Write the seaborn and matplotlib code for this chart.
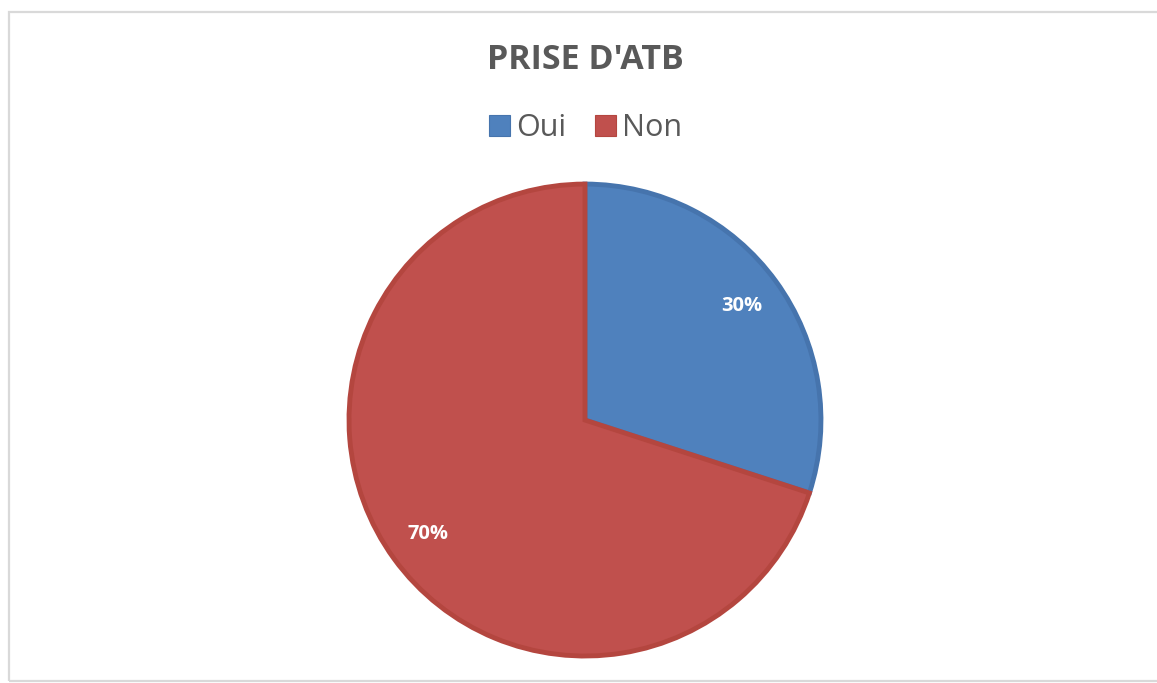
import matplotlib
matplotlib.use('Agg')
import matplotlib.pyplot as plt
import seaborn as sns
from matplotlib.patches import Rectangle, Patch

# data
labels = ['Oui', 'Non']
values = [30, 70]
colors = ['#4f81bd', '#c0504d']
edge_colors = ['#4674ad', '#b4463f']
title = "PRISE D'ATB"

sns.set_theme(style='white')
plt.rcParams['font.family'] = ['Open Sans', 'DejaVu Sans']

fig = plt.figure(figsize=(11.57, 6.83), dpi=100)
fig.patch.set_facecolor('white')

# chart frame
fig.patches.append(Rectangle((0.008, 0.003), 1.05, 0.98, transform=fig.transFigure,
                             fill=False, edgecolor='#d9d9d9', linewidth=1.6))

ax = fig.add_axes([0.3016, 0.0395, 0.408, 0.691])
wedges, texts, autotexts = ax.pie(
    values, colors=colors, startangle=90, counterclock=False,
    autopct='%d%%', pctdistance=0.82,
    wedgeprops=dict(linewidth=3.5, edgecolor='white'),
    textprops=dict(color='white', fontsize=14.5, fontweight='bold'))
for w, ec in zip(wedges, edge_colors):
    w.set_edgecolor(ec)
ax.set_aspect('equal')
ax.set_xlim(-1.0, 1.0)
ax.set_ylim(-1.0, 1.0)
ax.axis('off')

fig.text(0.5056, 0.912, title, ha='center', va='center',
         fontsize=24.5, fontweight='bold', color='#595959')

handles = [Patch(facecolor=c, edgecolor=e, linewidth=0.8) for c, e in zip(colors, edge_colors)]
fig.legend(handles, labels, loc='center', bbox_to_anchor=(0.5063, 0.813), ncol=2,
           frameon=False, fontsize=22, handlelength=0.68, handleheight=0.68,
           handletextpad=0.2, columnspacing=0.95, labelcolor='#595959')

fig.savefig('out.png', dpi=100)
